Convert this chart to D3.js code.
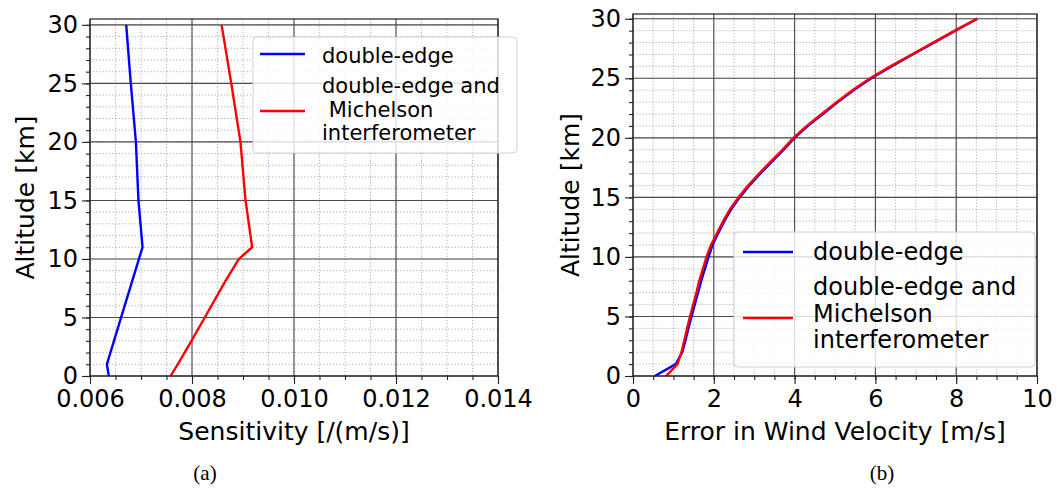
<!DOCTYPE html>
<html>
<head>
<meta charset="utf-8">
<script src="https://cdn.jsdelivr.net/npm/d3@7"></script>
<style>
  html, body { margin: 0; padding: 0; background: #fff; }
  svg { display: block; }
  text { font-family: "DejaVu Sans", sans-serif; fill: #000; }
</style>
</head>
<body>
<svg id="chart" width="1057" height="499"></svg>
<script>
// ---------------- DATA ----------------
// Panel (a): sensitivity vs altitude
const altA = [0, 1, 3, 5, 8, 10, 11, 15, 20, 25, 30];
const sensDoubleEdge = [0.00637, 0.00633, 0.00647, 0.00661, 0.00682, 0.00696, 0.00703, 0.00695, 0.00690, 0.00680, 0.00671];
const sensDoubleEdgeMichelson = [0.00758, 0.00772, 0.00799, 0.00825, 0.00864, 0.00892, 0.00918, 0.00905, 0.00895, 0.00877, 0.00858];

// Panel (b): wind velocity error vs altitude
const altB = [0,1,2,3,4,5,6,7,8,9,10,11,12,13,14,15,16,17,18,19,20,21,22,23,24,25,26,27,28,29,30];
const errDoubleEdge = [0.54,1.06,1.22,1.30,1.37,1.45,1.53,1.61,1.69,1.78,1.87,1.97,2.11,2.26,2.43,2.64,2.88,3.15,3.44,3.73,4.00,4.33,4.70,5.07,5.46,5.90,6.40,6.92,7.45,7.98,8.52];
const errDoubleEdgeMichelson = [0.82,1.10,1.20,1.27,1.34,1.41,1.49,1.57,1.64,1.73,1.82,1.93,2.08,2.23,2.40,2.61,2.85,3.12,3.41,3.70,3.97,4.30,4.67,5.04,5.43,5.87,6.37,6.90,7.43,7.97,8.52];

const xTicksA = [0.006, 0.008, 0.010, 0.012, 0.014];
const xTicksB = [0, 2, 4, 6, 8, 10];
const yTicks = [0, 5, 10, 15, 20, 25, 30];
const seriesNames = ["double-edge", "double-edge and\n Michelson\ninterferometer"];
const seriesNamesB = ["double-edge", "double-edge and\nMichelson\ninterferometer"];
const seriesColors = ["#0000ff", "#ff0000"];
const xLabelA = "Sensitivity [/(m/s)]";
const xLabelB = "Error in Wind Velocity [m/s]";
const yLabel = "Altitude [km]";
const panelLabels = ["(a)", "(b)"];

// ---------------- DRAW ----------------
const svg = d3.select("#chart");

function panel(cfg) {
  const g = svg.append("g");
  const x = d3.scaleLinear().domain(cfg.xDomain).range([cfg.left, cfg.right]);
  const y = d3.scaleLinear().domain(cfg.yDomain).range([cfg.bottom, cfg.top]);

  // minor grid
  const xMinor = d3.range(cfg.xDomain[0], cfg.xDomain[1] + cfg.xMinorStep / 2, cfg.xMinorStep);
  const yMinor = d3.range(0, 30.5, 1);
  g.append("g").selectAll("line").data(xMinor).join("line")
    .attr("x1", d => x(d)).attr("x2", d => x(d))
    .attr("y1", cfg.top).attr("y2", cfg.bottom)
    .attr("stroke", "#a8a8a8").attr("stroke-width", 0.9).attr("stroke-dasharray", "1.2,2");
  g.append("g").selectAll("line").data(yMinor).join("line")
    .attr("x1", cfg.left).attr("x2", cfg.right)
    .attr("y1", d => y(d)).attr("y2", d => y(d))
    .attr("stroke", "#a8a8a8").attr("stroke-width", 0.9).attr("stroke-dasharray", "1.2,2");

  // major grid
  g.append("g").selectAll("line").data(cfg.xTicks).join("line")
    .attr("x1", d => x(d)).attr("x2", d => x(d))
    .attr("y1", cfg.top).attr("y2", cfg.bottom)
    .attr("stroke", "#4a4a4a").attr("stroke-width", 1.1);
  g.append("g").selectAll("line").data(yTicks).join("line")
    .attr("x1", cfg.left).attr("x2", cfg.right)
    .attr("y1", d => y(d)).attr("y2", d => y(d))
    .attr("stroke", "#4a4a4a").attr("stroke-width", 1.1);

  // axes
  const xAxis = d3.axisBottom(x).tickValues(cfg.xTicks).tickFormat(cfg.xFormat).tickSize(8).tickPadding(6);
  const xAxisMinor = d3.axisBottom(x).tickValues(xMinor).tickFormat("").tickSize(4);
  const yAxis = d3.axisLeft(y).tickValues(yTicks).tickFormat(d3.format("d")).tickSize(8).tickPadding(4);
  const yAxisMinor = d3.axisLeft(y).tickValues(yMinor).tickFormat("").tickSize(4);

  [xAxisMinor, xAxis].forEach(ax => {
    const a = g.append("g").attr("transform", `translate(0,${cfg.bottom})`).call(ax);
    a.select(".domain").remove();
    a.selectAll("line").attr("stroke", "#222").attr("stroke-width", 1.1);
    a.selectAll("text").style("font-size", "24px").attr("fill", "#000");
  });
  [yAxisMinor, yAxis].forEach(ax => {
    const a = g.append("g").attr("transform", `translate(${cfg.left},0)`).call(ax);
    a.select(".domain").remove();
    a.selectAll("line").attr("stroke", "#222").attr("stroke-width", 1.1);
    a.selectAll("text").style("font-size", "24px").attr("fill", "#000");
  });

  // data lines
  const line = d3.line().x(d => x(d[0])).y(d => y(d[1]));
  cfg.series.forEach((s, i) => {
    const pts = s.map((v, k) => [v, cfg.alt[k]]);
    g.append("path").datum(pts).attr("d", line)
      .attr("fill", "none").attr("stroke", seriesColors[i]).attr("stroke-width", 2.4)
      .attr("stroke-linejoin", "round");
  });

  // spines
  g.append("rect").attr("x", cfg.left).attr("y", cfg.top)
    .attr("width", cfg.right - cfg.left).attr("height", cfg.bottom - cfg.top)
    .attr("fill", "none").attr("stroke", "#222").attr("stroke-width", 1.2);

  // axis labels
  g.append("text").attr("x", (cfg.left + cfg.right) / 2).attr("y", cfg.xLabelY)
    .attr("text-anchor", "middle").style("font-size", "25px").text(cfg.xLabel);
  g.append("text")
    .attr("transform", `translate(${cfg.yLabelX},${(cfg.top + cfg.bottom) / 2}) rotate(-90)`)
    .attr("text-anchor", "middle").attr("dy", "0.35em").style("font-size", "25px").text(yLabel);

  // legend
  const L = cfg.legend;
  const lg = g.append("g");
  lg.append("rect").attr("x", L.x).attr("y", L.y).attr("width", L.w).attr("height", L.h)
    .attr("rx", 4).attr("fill", "rgba(255,255,255,0.8)").attr("stroke", "#d0d0d0").attr("stroke-width", 1);
  cfg.names.forEach((name, i) => {
    lg.append("line").attr("x1", L.hx1).attr("x2", L.hx2)
      .attr("y1", L.hy[i]).attr("y2", L.hy[i])
      .attr("stroke", seriesColors[i]).attr("stroke-width", 2.4);
    const lines = name.split("\n");
    lines.forEach((t, j) => {
      lg.append("text").attr("x", L.tx).attr("y", L.base[i] + j * L.lh)
        .style("font-size", L.fs + "px").style("white-space", "pre").attr("xml:space", "preserve").text(t);
    });
  });

  // panel label
  svg.append("text").attr("x", cfg.pl[0]).attr("y", cfg.pl[1]).attr("text-anchor", "middle")
    .style("font-family", "'Liberation Serif', serif").style("font-size", "21px").text(cfg.panelLabel);
}

panel({
  left: 90, right: 498, top: 19, bottom: 376,
  xDomain: [0.006, 0.014], yDomain: [0, 30.5],
  xTicks: xTicksA, xMinorStep: 0.0005, xFormat: d3.format(".3f"),
  alt: altA, series: [sensDoubleEdge, sensDoubleEdgeMichelson],
  xLabel: xLabelA, xLabelY: 440, yLabelX: 25,
  names: seriesNames,
  legend: { x: 253, y: 37, w: 264, h: 116, hx1: 260, hx2: 305, hy: [54, 111], tx: 322, base: [63, 93], lh: 23.5, fs: 21 },
  panelLabel: panelLabels[0], pl: [205, 480]
});

panel({
  left: 633, right: 1037, top: 14, bottom: 376,
  xDomain: [0, 10], yDomain: [0, 30.4],
  xTicks: xTicksB, xMinorStep: 0.5, xFormat: d3.format("d"),
  alt: altB, series: [errDoubleEdge, errDoubleEdgeMichelson],
  xLabel: xLabelB, xLabelY: 440, yLabelX: 570,
  names: seriesNamesB,
  legend: { x: 734, y: 232, w: 301, h: 135, hx1: 743, hx2: 793, hy: [252, 318], tx: 813, base: [260, 295], lh: 26.5, fs: 24 },
  panelLabel: panelLabels[1], pl: [882, 480]
});
</script>
</body>
</html>
